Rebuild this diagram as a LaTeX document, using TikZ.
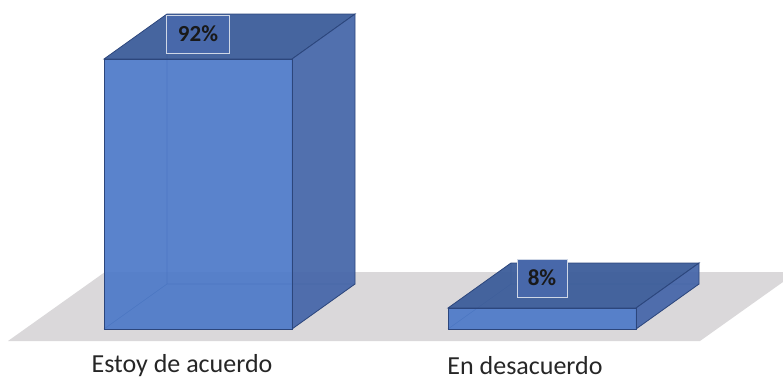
\documentclass[tikz,border=0pt]{standalone}
\usepackage{fontspec}
\setmainfont{Carlito}
\usepackage{tikz}
\usetikzlibrary{positioning}

\definecolor{frontblue}{RGB}{78,122,200}
\definecolor{sideblue}{RGB}{72,104,170}
\definecolor{topblue}{RGB}{64,96,156}
\definecolor{edgeblue}{RGB}{44,70,124}
\definecolor{floorgrey}{RGB}{218,216,218}

\begin{document}
\begin{tikzpicture}[x=1pt, y=-1pt,
    front/.style = {fill=frontblue, fill opacity=.93, draw=edgeblue, line width=.8pt},
    side/.style = {fill=sideblue, fill opacity=.95, draw=edgeblue, line width=.8pt},
    top/.style = {fill=topblue, fill opacity=.97, draw=edgeblue, line width=.8pt},
    pct/.style = {draw=white!75!topblue, line width=1pt, fill=sideblue, minimum height=38pt,
        inner sep=2pt, font=\fontsize{23}{25}\selectfont\bfseries, text=black!90},
    cat/.style = {font=\fontsize{26}{30}\selectfont, text=black!85}]
    \useasboundingbox (0,0) rectangle (783,381);

    % floor
    \fill[floorgrey] (8,341) -- (105,272) -- (797,272) -- (700,341) -- cycle;

    % bars
    \foreach \x/\t in {104/59, 448/308} {
        \draw[edgeblue, line width=.6pt] (\x+63,\t-45) -- (\x+63,284) -- (\x,329)
            (\x+63,284) -- (\x+251,284);
        \filldraw[top] (\x,\t) -- (\x+63,\t-45) -- (\x+251,\t-45) -- (\x+188,\t) -- cycle;
        \filldraw[side] (\x+188,\t) -- (\x+251,\t-45) -- (\x+251,284) -- (\x+188,329) -- cycle;
        \filldraw[front] (\x,\t) rectangle (\x+188,329);
    }

    % values
    \node[pct, minimum width=63pt] (p92) at (198,34) {92\%};
    \node[pct, minimum width=50pt] (p8) at (542,278) {8\%};

    % categories
    \node[cat] (c1) at (182,366) {Estoy de acuerdo};
    \node[cat] (c2) at (525,366) {En desacuerdo};
\end{tikzpicture}
\end{document}
